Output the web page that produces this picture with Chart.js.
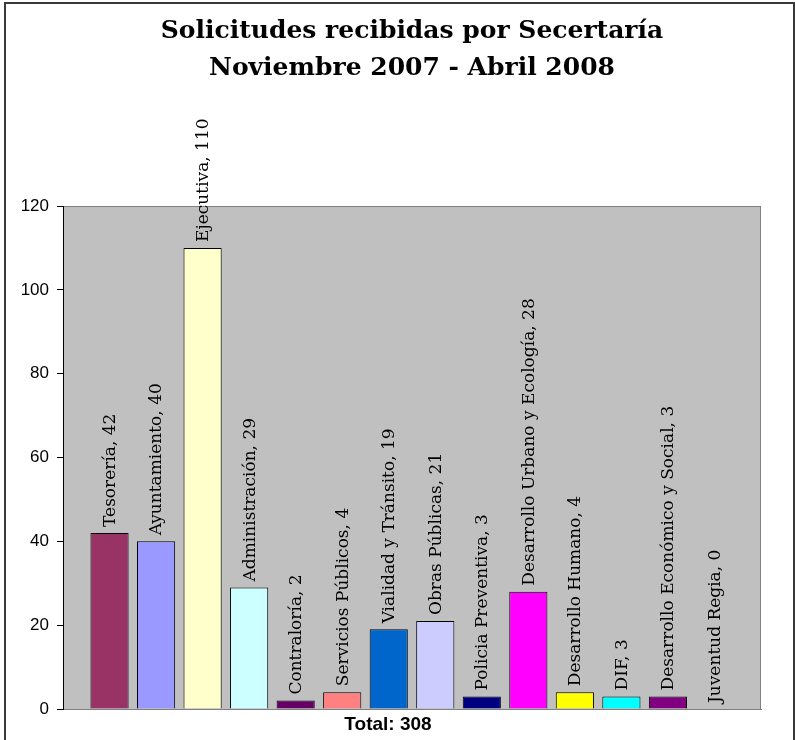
<!DOCTYPE html>
<html>
<head>
<meta charset="utf-8">
<script src="https://cdn.jsdelivr.net/npm/chart.js@4.4.1/dist/chart.umd.min.js"></script>
<style>
  body { margin: 0; background: #fff; overflow: hidden; }
  #wrap { position: relative; width: 795px; height: 740px; }
  #frame { position: absolute; left: 4px; top: 2px; width: 787px; height: 800px; border: 2px solid #3a3a3a; pointer-events: none; }
</style>
</head>
<body>
<div id="wrap">
  <canvas id="solChart" width="795" height="740"></canvas>
  <div id="frame"></div>
</div>
<script>
// Secretarías (with an empty slot at each end, as in the original)
let categorias = ['', 'Tesorería', 'Ayuntamiento', 'Ejecutiva', 'Administración', 'Contraloría',
    'Servicios Públicos', 'Vialidad y Tránsito', 'Obras Públicas', 'Policia Preventiva',
    'Desarrollo Urbano y Ecología', 'Desarrollo Humano', 'DIF', 'Desarrollo Económico y Social',
    'Juventud Regia', ''];
let solicitudes = [null, 42, 40, 110, 29, 2, 4, 19, 21, 3, 28, 4, 3, 3, 0, null];
let colores = ['#000', '#993366', '#9999FF', '#FFFFCC', '#CCFFFF', '#660066', '#FF8080', '#0066CC',
    '#CCCCFF', '#000080', '#FF00FF', '#FFFF00', '#00FFFF', '#800080', '#800000', '#000'];
let yTicks = [0, 20, 40, 60, 80, 100, 120];
let totalTexto = 'Total: 308';

// gray plot background
const plotBg = {
    id: 'plotBg',
    beforeDraw(chart) {
        const { ctx, chartArea: a } = chart;
        ctx.save();
        ctx.fillStyle = '#c0c0c0';
        ctx.fillRect(a.left, a.top, a.right - a.left, a.bottom - a.top);
        ctx.strokeStyle = '#808080';
        ctx.lineWidth = 1;
        ctx.strokeRect(a.left + 0.5, a.top + 0.5, a.right - a.left - 1, a.bottom - a.top);
        ctx.restore();
    }
};

// vertical "Name, value" labels above each bar + the total under the axis
const barLabels = {
    id: 'barLabels',
    afterDatasetsDraw(chart) {
        const ctx = chart.ctx;
        const a = chart.chartArea;
        const meta = chart.getDatasetMeta(0);
        ctx.save();
        ctx.font = '17px "DejaVu Serif"';
        ctx.fillStyle = '#000';
        ctx.textAlign = 'left';
        ctx.textBaseline = 'middle';
        meta.data.forEach((bar, i) => {
            if (solicitudes[i] === null) return;
            ctx.save();
            ctx.translate(bar.x + 1, bar.y - 6);
            ctx.rotate(-Math.PI / 2);
            ctx.fillText(categorias[i] + ', ' + solicitudes[i], 0, 0);
            ctx.restore();
        });
        // total, a bit left of the axis centre like the original
        ctx.font = 'bold 19px "Liberation Sans", Arial';
        ctx.textAlign = 'center';
        ctx.fillText(totalTexto, (a.left + a.right) / 2 - 24, a.bottom + 16);
        ctx.restore();
    }
};

let solChart = new Chart(document.getElementById('solChart'), {
    type: 'bar',
    data: {
        labels: categorias,
        datasets: [{
            data: solicitudes,
            backgroundColor: colores,
            borderColor: '#000',
            borderWidth: 1,
            borderSkipped: 'bottom',
            barPercentage: 0.82,
            categoryPercentage: 1
        }]
    },
    options: {
        responsive: false,
        animation: false,
        layout: { padding: { left: 10, right: 34, top: 0, bottom: 23 } },
        plugins: {
            legend: { display: false },
            tooltip: { enabled: false },
            title: {
                display: true,
                fullSize: false,
                text: ['Solicitudes recibidas por Secertaría', 'Noviembre 2007 - Abril 2008'],
                color: '#000',
                font: { family: '"DejaVu Serif"', size: 25, weight: 'bold', lineHeight: 1.48 },
                padding: { top: 13, bottom: 119 }
            }
        },
        scales: {
            x: {
                offset: false,
                grid: { display: false },
                border: { color: '#808080' },
                ticks: { display: false }
            },
            y: {
                min: 0,
                max: 120,
                afterFit(scale) { scale.width = 53; },
                afterBuildTicks(scale) { scale.ticks = yTicks.map(v => ({ value: v })); },
                border: { color: '#000' },
                grid: { drawOnChartArea: false, drawTicks: true, tickLength: 6, color: '#000' },
                ticks: {
                    color: '#000',
                    padding: 8,
                    font: { family: '"Liberation Sans", Arial', size: 17 }
                }
            }
        }
    },
    plugins: [plotBg, barLabels]
});
</script>
</body>
</html>
